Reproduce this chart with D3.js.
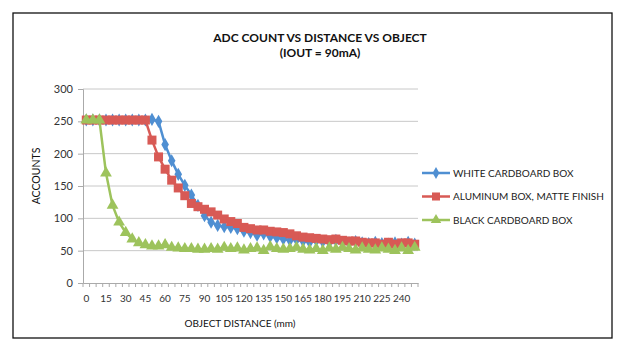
<!DOCTYPE html>
<html>
<head>
<meta charset="utf-8">
<script src="https://cdn.jsdelivr.net/npm/d3@7"></script>
<style>
  body { margin: 0; background: #fff; }
  text { font-family: Lato, "Open Sans", sans-serif; fill: #222; }
</style>
</head>
<body>
<div id="chart"></div>
<script>
// object distance categories (mm)
var distances = [0, 5, 10, 15, 20, 25, 30, 35, 40, 45, 50, 55, 60, 65, 70, 75, 80, 85, 90, 95,
  100, 105, 110, 115, 120, 125, 130, 135, 140, 145, 150, 155, 160, 165, 170, 175, 180, 185, 190, 195,
  200, 205, 210, 215, 220, 225, 230, 235, 240, 245, 250];
var xLabels = [0, 15, 30, 45, 60, 75, 90, 105, 120, 135, 150, 165, 180, 195, 210, 225, 240];
var yTicks = [0, 50, 100, 150, 200, 250, 300];

var whiteBox = [252, 252, 252, 252, 252, 252, 252, 252, 252, 252, 253, 250, 214, 189, 168, 151, 136, 120, 104, 94,
  89, 87, 86, 84, 80, 78, 74, 76, 72, 70, 68, 66, 67, 65, 63, 66, 64, 63, 66, 63,
  62, 64, 62, 61, 63, 61, 60, 62, 60, 63, 60];
var aluminumBox = [252, 252, 252, 252, 252, 252, 252, 252, 252, 252, 221, 195, 176, 159, 147, 135, 123, 118, 114, 110,
  105, 99, 95, 92, 86, 84, 82, 82, 80, 79, 78, 76, 73, 71, 70, 69, 68, 67, 68, 66,
  65, 65, 63, 62, 62, 60, 63, 60, 62, 62, 60];
var blackBox = [252, 252, 252, 170, 120, 94, 78, 68, 62, 59, 57, 57, 59, 55, 54, 53, 53, 52, 52, 53,
  52, 55, 53, 54, 51, 53, 54, 50, 56, 53, 52, 53, 55, 52, 51, 53, 50, 54, 52, 55,
  53, 51, 54, 52, 51, 54, 52, 50, 54, 50, 55];

var seriesNames = ["WHITE CARDBOARD BOX", "ALUMINUM BOX, MATTE FINISH", "BLACK CARDBOARD BOX"];
var colors = ["#4F8FD2", "#D85A55", "#9DC35C"];
var symbols = [d3.symbolDiamond, d3.symbolSquare, d3.symbolTriangle];
var symbolSizes = [50, 81, 60];
var allSeries = [whiteBox, aluminumBox, blackBox];

var W = 621, H = 358;
var margin = { top: 89, left: 83 };
var width = 335, height = 194;

var svg = d3.select("#chart").append("svg")
  .attr("width", W).attr("height", H);

// outer frame
svg.append("rect")
  .attr("x", 13).attr("y", 13).attr("width", 599).attr("height", 325)
  .attr("fill", "#fff").attr("stroke", "#111").attr("stroke-width", 1.3);

// title
svg.append("text").attr("x", 320).attr("y", 42).attr("text-anchor", "middle")
  .style("font-size", "12px").style("font-weight", "bold").style("fill", "#111")
  .text("ADC COUNT VS DISTANCE VS OBJECT");
svg.append("text").attr("x", 320).attr("y", 57).attr("text-anchor", "middle")
  .style("font-size", "12px").style("font-weight", "bold").style("fill", "#111")
  .text("(IOUT = 90mA)");

var g = svg.append("g")
  .attr("transform", "translate(" + margin.left + "," + margin.top + ")");

var x = d3.scaleBand().domain(distances).range([0, width]).padding(0);
var y = d3.scaleLinear().domain([0, 300]).range([height, 0]);

// gridlines
g.selectAll(".grid").data(yTicks.slice(1)).enter().append("line")
  .attr("x1", 0).attr("x2", width)
  .attr("y1", function(d) { return y(d); }).attr("y2", function(d) { return y(d); })
  .attr("stroke", "#c8c8c8").attr("stroke-width", 1);

// y axis
var yAxis = g.append("g").call(d3.axisLeft(y).tickValues(yTicks).tickSize(5).tickPadding(5));
yAxis.select(".domain").attr("stroke", "#aaa");
yAxis.selectAll(".tick line").attr("stroke", "#aaa");
yAxis.selectAll("text").style("font-size", "11px").style("fill", "#333");

// x axis: labels
var xAxis = g.append("g").attr("transform", "translate(0," + height + ")")
  .call(d3.axisBottom(x).tickValues(xLabels).tickSize(0).tickPadding(12));
xAxis.select(".domain").attr("stroke", "#aaa");
xAxis.selectAll("text").style("font-size", "10px").style("fill", "#333");

// x axis: tick marks on category boundaries
var bounds = distances.map(function(d) { return x(d); }).concat([x(distances[distances.length - 1]) + x.step()]);
g.selectAll(".xtick").data(bounds).enter().append("line")
  .attr("x1", function(d) { return d; }).attr("x2", function(d) { return d; })
  .attr("y1", height).attr("y2", height + 4)
  .attr("stroke", "#aaa");

// axis titles
svg.append("text").attr("transform", "translate(40,176) rotate(-90)")
  .attr("text-anchor", "middle").style("font-size", "10.5px").style("fill", "#111")
  .text("ACCOUNTS");
svg.append("text").attr("x", 240).attr("y", 327).attr("text-anchor", "middle")
  .style("font-size", "10px").style("fill", "#111")
  .text("OBJECT DISTANCE (mm)");

// series lines and markers
var line = d3.line()
  .x(function(d, i) { return x(distances[i]) + x.bandwidth() / 2; })
  .y(function(d) { return y(d); });

allSeries.forEach(function(vals, s) {
  g.append("path").datum(vals)
    .attr("d", line).attr("fill", "none")
    .attr("stroke", colors[s]).attr("stroke-width", 2.5).attr("stroke-linejoin", "round");
  g.selectAll(".m" + s).data(vals).enter().append("path")
    .attr("transform", function(d, i) {
      return "translate(" + (x(distances[i]) + x.bandwidth() / 2) + "," + y(d) + ")";
    })
    .attr("d", d3.symbol().type(symbols[s]).size(symbolSizes[s]))
    .attr("fill", colors[s]);
});

// legend
var legend = svg.append("g").attr("transform", "translate(422,173)");
seriesNames.forEach(function(name, s) {
  var row = legend.append("g").attr("transform", "translate(0," + (s * 23.5) + ")");
  row.append("line").attr("x1", 0).attr("x2", 28).attr("y1", 0).attr("y2", 0)
    .attr("stroke", colors[s]).attr("stroke-width", 2.5);
  row.append("path").attr("transform", "translate(14,0)")
    .attr("d", d3.symbol().type(symbols[s]).size(symbolSizes[s] * 0.8))
    .attr("fill", colors[s]);
  row.append("text").attr("x", 31).attr("y", 3.6)
    .style("font-size", "10px").style("fill", "#222").text(name);
});
</script>
</body>
</html>
